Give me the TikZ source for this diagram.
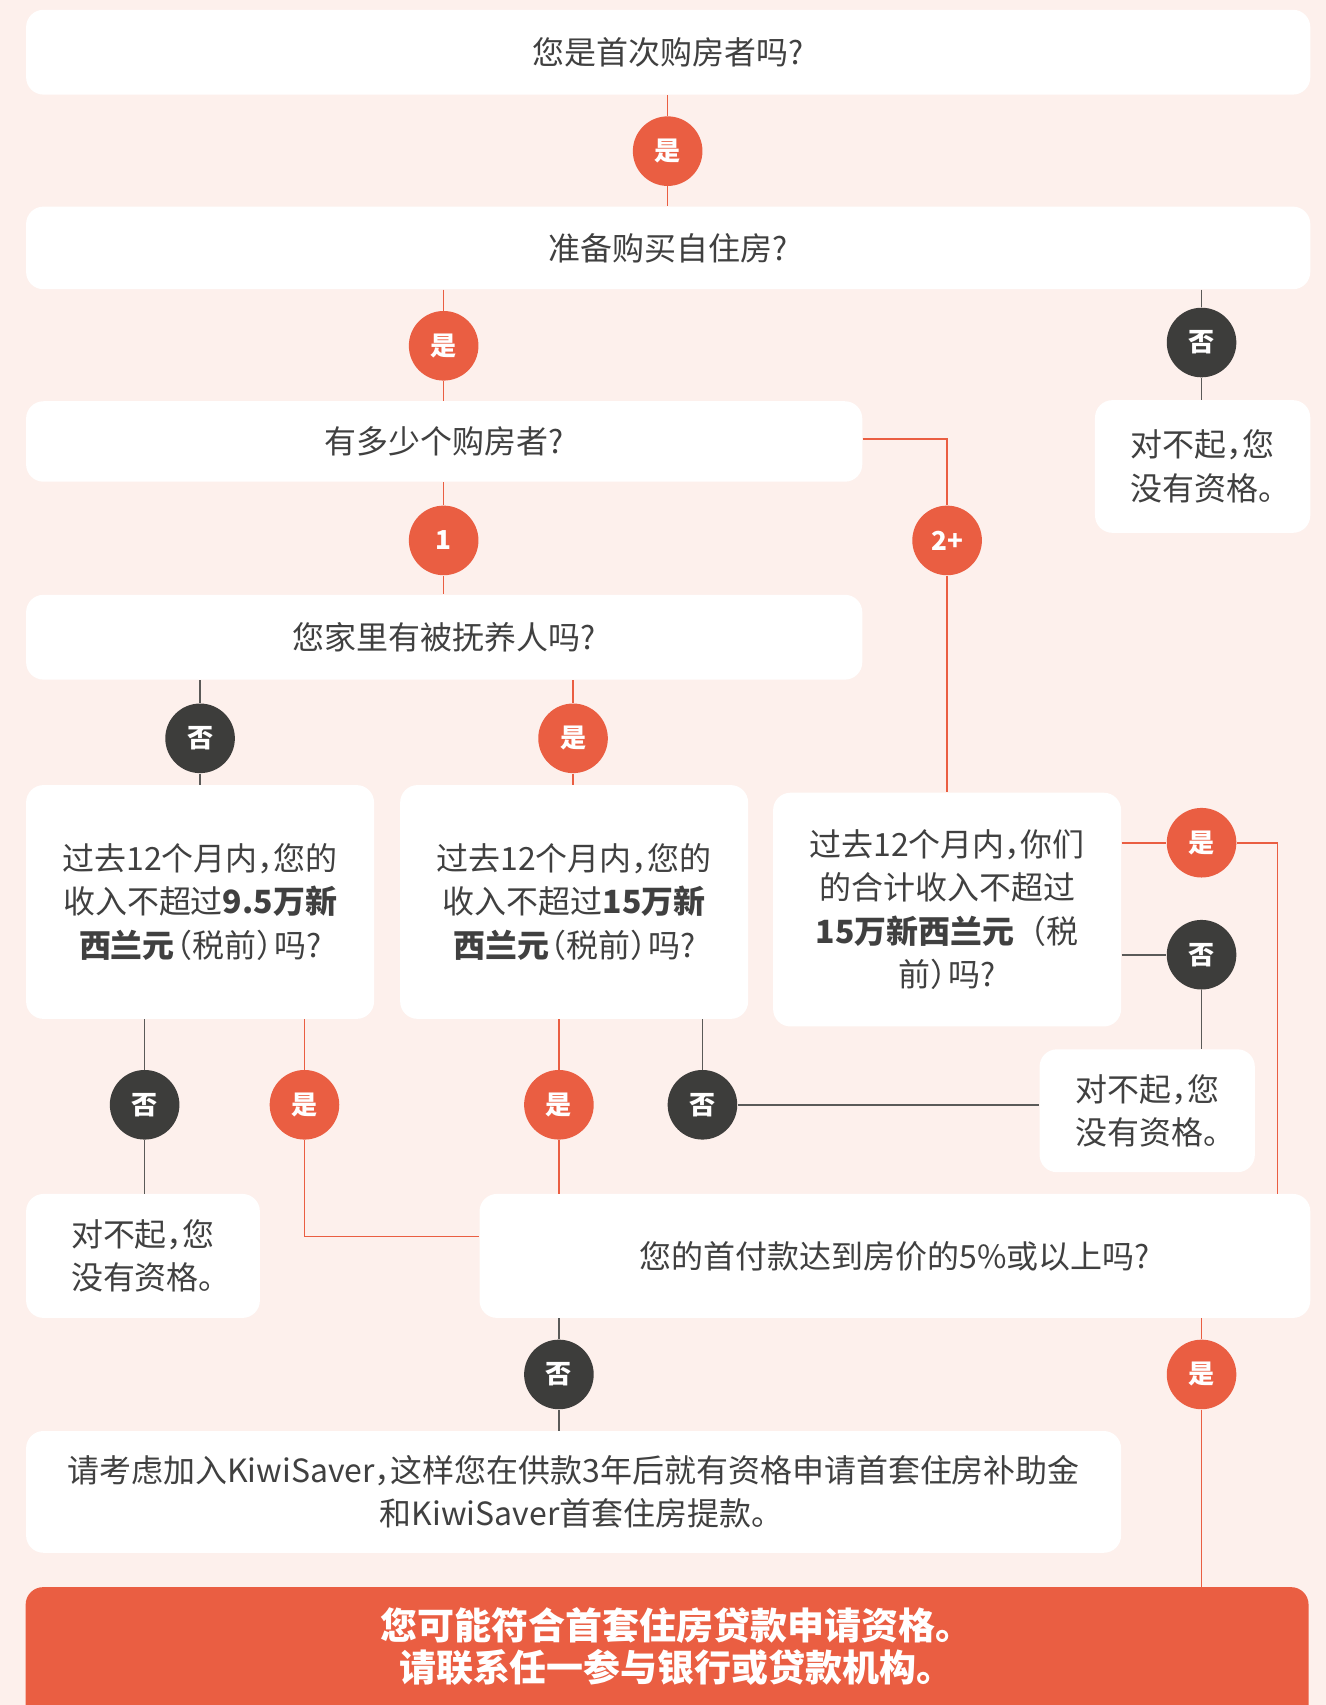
\documentclass[tikz,border=0pt]{standalone}
\usepackage{fontspec}
\setmainfont{Noto Sans CJK SC}
\usetikzlibrary{calc}
\definecolor{bgc}{RGB}{253,240,236}
\definecolor{org}{RGB}{234,94,66}
\definecolor{drk}{RGB}{61,61,59}
\definecolor{txt}{RGB}{64,64,64}
\definecolor{gline}{RGB}{90,90,88}
\newcommand\zcm{，\kern-0.5em}
\newcommand\zlp{\kern-0.45em（}
\newcommand\zrp{）\kern-0.45em}
\newcommand\zend{。\kern-0.5em}
\pgfdeclarelayer{bg}
\pgfsetlayers{bg,main}
\begin{document}
\begin{tikzpicture}[x=0.5pt,y=-0.5pt,
 box/.style={draw=none,fill=white,rounded corners=8pt,inner sep=0pt,align=center,text=txt,font=\fontsize{14.7}{20}\selectfont},
 sorry/.style={box,align=left},
 yes/.style={circle,fill=org,minimum size=32pt,inner sep=0pt,text=white,font=\fontsize{12}{12}\selectfont\bfseries},
 no/.style={yes,fill=drk},
 oline/.style={draw=org,line width=0.75pt},
 dline/.style={draw=gline,line width=0.75pt}]
\useasboundingbox (0,0) rectangle (1219.4,1568);
\begin{pgfonlayer}{bg}
\fill[bgc] (0,0) rectangle (1219.4,1568);
\end{pgfonlayer}

% boxes
\node[box,minimum width=590.5pt,minimum height=39pt] (b1) at (614.5,48) {您是首次购房者吗?};
\node[box,minimum width=590.5pt,minimum height=38pt] (b2) at (614.5,228) {准备购买自住房?};
\node[box,minimum width=384.5pt,minimum height=37pt] (b3) at (408.5,406) {有多少个购房者?};
\node[sorry,minimum width=99pt,minimum height=61pt] (sA) at (1106,429) {对不起\zcm 您\\没有资格\zend};
\node[box,minimum width=384.5pt,minimum height=39pt] (b4) at (408.5,586) {您家里有被抚养人吗?};
\node[box,minimum width=160pt,minimum height=107.5pt] (b5a) at (184,829.5) {过去12个月内\zcm 您的\\收入不超过\textbf{9.5万新}\\\textbf{西兰元}\zlp 税前\zrp 吗?};
\node[box,minimum width=160pt,minimum height=107.5pt] (b5b) at (528,829.5) {过去12个月内\zcm 您的\\收入不超过\textbf{15万新}\\\textbf{西兰元}\zlp 税前\zrp 吗?};
\node[box,minimum width=160pt,minimum height=107.5pt] (b5c) at (871,836.5) {过去12个月内\zcm 你们\\的合计收入不超过\\\textbf{15万新西兰元}（税\\前\zrp 吗?};
\node[sorry,minimum width=99pt,minimum height=56.5pt] (sC) at (1055,1021.5) {对不起\zcm 您\\没有资格\zend};
\node[sorry,minimum width=107.5pt,minimum height=57pt] (sB) at (131.5,1155) {对不起\zcm 您\\没有资格\zend};
\node[box,minimum width=382pt,minimum height=57pt] (b7) at (823,1155) {您的首付款达到房价的5\%或以上吗?};
\node[box,minimum width=503.5pt,minimum height=56pt] (b8) at (527.5,1372) {请考虑加入KiwiSaver\zcm 这样您在供款3年后就有资格申请首套住房补助金\\和KiwiSaver首套住房提款\zend};
\node[inner sep=0pt,align=center,text=white,minimum width=589.5pt,minimum height=54pt,font=\fontsize{17}{19.5}\selectfont\bfseries] (b9) at (613.5,1514) {您可能符合首套住房贷款申请资格\zend\\请联系任一参与银行或贷款机构\zend};
\begin{pgfonlayer}{bg}
\fill[org,rounded corners=8pt] (b9.north west) rectangle ([yshift=-30pt]b9.south east);
\end{pgfonlayer}

% circles
\node[yes] (c1) at (614,139) {是};
\node[yes] (c2) at (408,318) {是};
\node[no]  (c3) at (1105,315) {否};
\node[yes] (c4) at (408,497) {1};
\node[yes] (c5) at (871,497) {2+};
\node[no]  (c6) at (184,679) {否};
\node[yes] (c7) at (527,679) {是};
\node[yes] (c8) at (1105,775) {是};
\node[no]  (c9) at (1105,878) {否};
\node[no]  (c10) at (133,1016) {否};
\node[yes] (c11) at (280,1016) {是};
\node[yes] (c12) at (514,1016) {是};
\node[no]  (c13) at (646,1016) {否};
\node[no]  (c14) at (514,1264) {否};
\node[yes] (c15) at (1105,1264) {是};
\coordinate (r1) at (1175,775);

% connectors
\draw[oline] (b1.south -| c1) -- (c1.north) (c1.south) -- (b2.north -| c1);
\draw[oline] (b2.south -| c2) -- (c2.north) (c2.south) -- (b3.north -| c2);
\draw[dline] (b2.south -| c3) -- (c3.north) (c3.south) -- (sA.north -| c3);
\draw[oline] (b3.south -| c4) -- (c4.north) (c4.south) -- (b4.north -| c4);
\draw[oline] ([yshift=1pt]b3.east) -| (c5.north) (c5.south) -- (b5c.north -| c5);
\draw[dline] (b4.south -| c6) -- (c6.north) (c6.south) -- (b5a.north -| c6);
\draw[oline] (b4.south -| c7) -- (c7.north) (c7.south) -- (b5b.north -| c7);
\draw[oline] (b5c.east |- c8) -- (c8.west) (c8.east) -| (b7.north -| r1);
\draw[dline] (b5c.east |- c9) -- (c9.west) (c9.south) -- (sC.north -| c9);
\draw[dline] (b5a.south -| c10) -- (c10.north) (c10.south) -- (sB.north -| c10);
\draw[oline] (b5a.south -| c11) -- (c11.north) (c11.south) |- ([yshift=9pt]b7.west);
\draw[oline] (b5b.south -| c12) -- (c12.north) (c12.south) -- (b7.north -| c12);
\draw[dline] (b5b.south -| c13) -- (c13.north) (c13.east) -- (sC.west |- c13);
\draw[dline] (b7.south -| c14) -- (c14.north) (c14.south) -- (b8.north -| c14);
\draw[oline] (b7.south -| c15) -- (c15.north) (c15.south) -- (b9.north -| c15);
\end{tikzpicture}
\end{document}
